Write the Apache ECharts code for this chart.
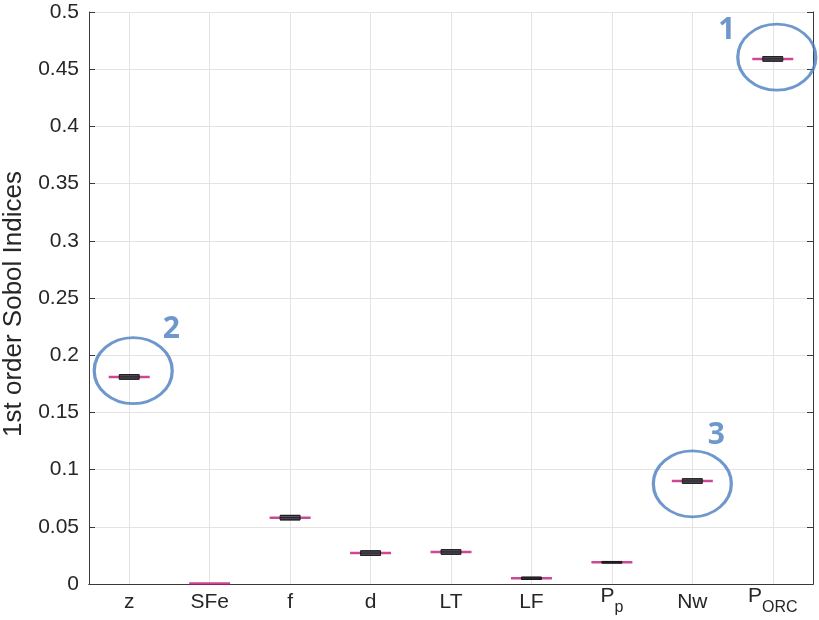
<!DOCTYPE html>
<html>
<head>
<meta charset="utf-8">
<script src="https://cdn.jsdelivr.net/npm/echarts@6/dist/echarts.min.js"></script>
<style>
  html, body { margin: 0; padding: 0; background: #fff; }
  #main { width: 819px; height: 620px; }
</style>
</head>
<body>
<div id="main"></div>
<script>
// categories and values
var categories = ['z', 'SFe', 'f', 'd', 'LT', 'LF', 'P_p', 'Nw', 'P_ORC'];
var medians = [0.181, 0.0005, 0.058, 0.027, 0.028, 0.005, 0.019, 0.090, 0.459];
var boxLow  = [0.179, 0.0005, 0.056, 0.025, 0.026, 0.004, 0.0183, 0.088, 0.457];
var boxHigh = [0.183, 0.0005, 0.060, 0.029, 0.030, 0.006, 0.0197, 0.092, 0.461];
var yTicks = [0, 0.05, 0.1, 0.15, 0.2, 0.25, 0.3, 0.35, 0.4, 0.45, 0.5];

// circled annotations
var annoCats = ['P_ORC', 'z', 'Nw'];
var annoValues = [0.4605, 0.1865, 0.0876];
var annoLabels = ['1', '2', '3'];

var blue = '#4a7ebf';
var red = '#c0197d';
var txt = '#262626';
var axisCol = '#3a3a3a';

var myChart = echarts.init(document.getElementById('main'));

function fmtCat(c) {
	var parts = c.split('_');
	if (parts.length === 1) return c;
	return '{base|' + parts[0] + '}{sub|' + parts[1] + '}';
}

var boxData = categories.map(function (c, i) {
	var item = { value: [boxLow[i], boxLow[i], medians[i], boxHigh[i], boxHigh[i]] };
	if (boxHigh[i] - boxLow[i] < 1e-6) item.itemStyle = { opacity: 0 };
	return item;
});
var medData = categories.map(function (c, i) { return [c, medians[i]]; });
var annoOffsets = [[4, 0], [4, 0], [0, 0]];
var labelOffsets = [[-50, -27], [38, -41], [24, -48]];
var annoData = annoCats.map(function (c, i) {
	return {
		value: [c, annoValues[i]],
		symbolOffset: annoOffsets[i],
		label: { formatter: annoLabels[i], offset: labelOffsets[i] }
	};
});

myChart.setOption({
	animation: false,
	backgroundColor: '#fff',
	textStyle: { fontFamily: 'Liberation Sans' },
	grid: { left: 89, right: 6, top: 12, bottom: 36, outerBoundsMode: 'none' },
	xAxis: [{
		type: 'category',
		data: categories,
		boundaryGap: true,
		axisLine: { lineStyle: { color: axisCol } },
		axisTick: { inside: true, alignWithLabel: true, interval: 0, length: 6, lineStyle: { color: axisCol } },
		splitLine: { show: true, alignWithLabel: true, interval: 0, lineStyle: { color: '#e3e3e3' } },
		axisLabel: {
			color: txt, fontSize: 21, margin: 18, interval: 0, verticalAlign: 'middle',
			formatter: fmtCat,
			rich: {
				base: { fontSize: 21, color: txt, padding: [0, 0, 12, 0] },
				sub: { fontSize: 16, color: txt, padding: [11, 0, 0, 0] }
			}
		}
	}, {
		type: 'category',
		data: categories,
		position: 'top',
		axisLine: { lineStyle: { color: axisCol } },
		axisTick: { inside: true, alignWithLabel: true, interval: 0, length: 6, lineStyle: { color: axisCol } },
		axisLabel: { show: false },
		splitLine: { show: false }
	}],
	yAxis: [{
		type: 'value',
		min: yTicks[0],
		max: yTicks[yTicks.length - 1],
		interval: 0.05,
		name: '1st order Sobol Indices',
		nameLocation: 'middle',
		nameGap: 55,
		nameTextStyle: { color: txt, fontSize: 26, padding: [0, 12, 0, 0] },
		axisLine: { show: true, lineStyle: { color: axisCol } },
		axisTick: { show: true, inside: true, length: 6, lineStyle: { color: axisCol } },
		splitLine: { show: true, lineStyle: { color: '#e3e3e3' } },
		axisLabel: { color: txt, fontSize: 21, margin: 10 }
	}, {
		type: 'value',
		min: yTicks[0],
		max: yTicks[yTicks.length - 1],
		interval: 0.05,
		position: 'right',
		axisLine: { show: true, lineStyle: { color: axisCol } },
		axisTick: { show: true, inside: true, length: 6, lineStyle: { color: axisCol } },
		splitLine: { show: false },
		axisLabel: { show: false }
	}],
	series: [{
		name: 'median',
		type: 'scatter',
		data: medData,
		symbol: 'rect',
		symbolSize: [41, 2.5],
		itemStyle: { color: red },
		z: 3
	}, {
		name: 'sobol',
		type: 'boxplot',
		data: boxData,
		boxWidth: [20, 20],
		itemStyle: { color: '#4a4a58', borderColor: '#1a1a1a', borderWidth: 1, opacity: 0.9 },
		z: 4
	}, {
		name: 'annotations',
		type: 'scatter',
		data: annoData,
		symbol: 'circle',
		symbolSize: [78, 66],
		itemStyle: { color: 'rgba(0,0,0,0)', borderColor: blue, borderWidth: 3 },
		label: {
			show: true, position: 'inside', color: blue,
			fontSize: 30, fontWeight: 'bold', fontFamily: 'Open Sans'
		},
		z: 5
	}]
});
window.onresize = function () { myChart.resize(); };
</script>
</body>
</html>
